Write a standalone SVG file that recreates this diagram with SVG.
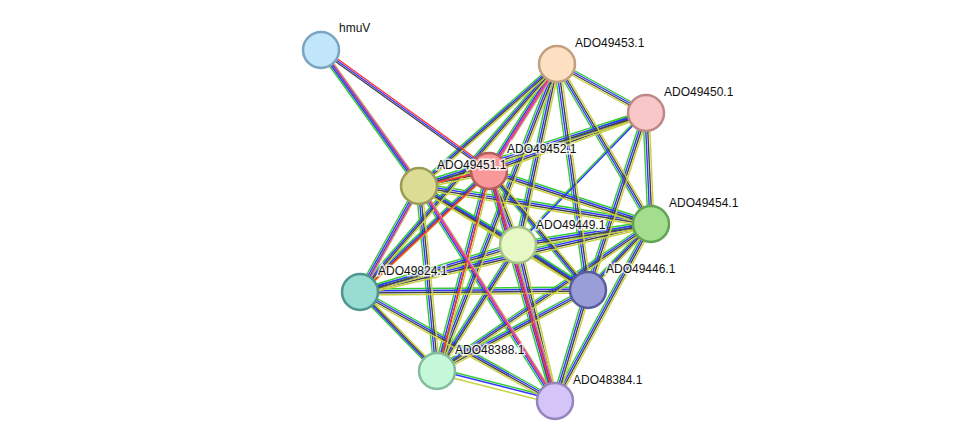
<svg xmlns="http://www.w3.org/2000/svg" xmlns:xlink="http://www.w3.org/1999/xlink" width="976" height="447" viewBox="0 0 976 447">
<style>
.g{stroke:#33cc33}.b{stroke:#3333ff}.k{stroke:#444}.y{stroke:#c8d040}.r{stroke:#ff3333}.m{stroke:#dd44dd}
#edges use{fill:none;stroke-width:1.4}
.n{stroke-width:2.5}
text{font-family:"Liberation Sans",Arial,sans-serif;font-size:12px;fill:#111;stroke:#fff;stroke-width:3px;paint-order:stroke;stroke-opacity:.8}
</style>
<defs>
<path id="e1" d="M321 50L489 171"/><path id="e2" d="M321 50L419 186"/><path id="e3" d="M557 64L419 186"/><path id="e4" d="M557 64L489 171"/>
<path id="e5" d="M557 64L518 245"/><path id="e6" d="M557 64L588 290"/><path id="e7" d="M557 64L651 224"/><path id="e8" d="M557 64L646 113"/>
<path id="e9" d="M557 64L360 292"/><path id="e10" d="M557 64L437 371"/><path id="e11" d="M646 113L489 171"/><path id="e12" d="M646 113L419 186"/>
<path id="e13" d="M646 113L651 224"/><path id="e14" d="M646 113L518 245"/><path id="e15" d="M646 113L588 290"/><path id="e16" d="M489 171L419 186"/>
<path id="e17" d="M489 171L518 245"/><path id="e18" d="M489 171L651 224"/><path id="e19" d="M489 171L588 290"/><path id="e20" d="M489 171L360 292"/>
<path id="e21" d="M489 171L437 371"/><path id="e22" d="M489 171L555 401"/><path id="e23" d="M419 186L518 245"/><path id="e24" d="M419 186L651 224"/>
<path id="e25" d="M419 186L588 290"/><path id="e26" d="M419 186L360 292"/><path id="e27" d="M419 186L437 371"/><path id="e28" d="M419 186L555 401"/>
<path id="e29" d="M651 224L518 245"/><path id="e30" d="M651 224L588 290"/><path id="e31" d="M651 224L360 292"/><path id="e32" d="M651 224L437 371"/>
<path id="e33" d="M651 224L555 401"/><path id="e34" d="M518 245L360 292"/><path id="e35" d="M518 245L588 290"/><path id="e36" d="M518 245L437 371"/>
<path id="e37" d="M518 245L555 401"/><path id="e38" d="M360 292L588 290"/><path id="e39" d="M360 292L437 371"/><path id="e40" d="M360 292L555 401"/>
<path id="e41" d="M588 290L437 371"/><path id="e42" d="M588 290L555 401"/><path id="e43" d="M437 371L555 401"/>
</defs>
<g id="edges">
<g class="g" transform="translate(-3,0)"><use href="#e2"/><use href="#e4"/><use href="#e5"/><use href="#e6"/><use href="#e7"/><use href="#e9"/><use href="#e10"/><use href="#e13"/><use href="#e14"/><use href="#e15"/><use href="#e17"/><use href="#e19"/><use href="#e21"/><use href="#e22"/><use href="#e26"/><use href="#e27"/><use href="#e28"/><use href="#e30"/><use href="#e33"/><use href="#e36"/><use href="#e37"/><use href="#e39"/><use href="#e42"/></g>
<g class="g" transform="translate(0,-3)"><use href="#e3"/><use href="#e8"/><use href="#e11"/><use href="#e12"/><use href="#e16"/><use href="#e18"/><use href="#e20"/><use href="#e23"/><use href="#e24"/><use href="#e25"/><use href="#e29"/><use href="#e31"/><use href="#e32"/><use href="#e34"/><use href="#e35"/><use href="#e38"/><use href="#e40"/><use href="#e41"/><use href="#e43"/></g>
<g class="b" transform="translate(-1,0)"><use href="#e2"/><use href="#e4"/><use href="#e5"/><use href="#e6"/><use href="#e7"/><use href="#e9"/><use href="#e10"/><use href="#e13"/><use href="#e14"/><use href="#e15"/><use href="#e17"/><use href="#e19"/><use href="#e21"/><use href="#e22"/><use href="#e26"/><use href="#e27"/><use href="#e28"/><use href="#e30"/><use href="#e33"/><use href="#e36"/><use href="#e37"/><use href="#e39"/><use href="#e42"/></g>
<g class="b" transform="translate(0,-1)"><use href="#e1"/><use href="#e3"/><use href="#e8"/><use href="#e11"/><use href="#e12"/><use href="#e16"/><use href="#e18"/><use href="#e20"/><use href="#e23"/><use href="#e24"/><use href="#e25"/><use href="#e29"/><use href="#e31"/><use href="#e32"/><use href="#e34"/><use href="#e35"/><use href="#e38"/><use href="#e40"/><use href="#e41"/><use href="#e43"/></g>
<g class="k" transform="translate(1,0)"><use href="#e2"/><use href="#e4"/><use href="#e5"/><use href="#e6"/><use href="#e7"/><use href="#e9"/><use href="#e10"/><use href="#e13"/><use href="#e15"/><use href="#e17"/><use href="#e19"/><use href="#e21"/><use href="#e22"/><use href="#e26"/><use href="#e27"/><use href="#e28"/><use href="#e30"/><use href="#e33"/><use href="#e36"/><use href="#e37"/><use href="#e39"/><use href="#e42"/></g>
<g class="k" transform="translate(0,1)"><use href="#e1"/><use href="#e3"/><use href="#e8"/><use href="#e11"/><use href="#e12"/><use href="#e16"/><use href="#e18"/><use href="#e20"/><use href="#e23"/><use href="#e24"/><use href="#e25"/><use href="#e29"/><use href="#e31"/><use href="#e32"/><use href="#e34"/><use href="#e35"/><use href="#e38"/><use href="#e40"/><use href="#e41"/></g>
<g class="y" transform="translate(3,0)"><use href="#e2"/><use href="#e4"/><use href="#e5"/><use href="#e6"/><use href="#e7"/><use href="#e9"/><use href="#e10"/><use href="#e13"/><use href="#e15"/><use href="#e17"/><use href="#e19"/><use href="#e21"/><use href="#e22"/><use href="#e26"/><use href="#e27"/><use href="#e28"/><use href="#e30"/><use href="#e33"/><use href="#e36"/><use href="#e37"/><use href="#e39"/><use href="#e42"/></g>
<g class="y" transform="translate(0,3)"><use href="#e3"/><use href="#e8"/><use href="#e11"/><use href="#e12"/><use href="#e16"/><use href="#e18"/><use href="#e20"/><use href="#e23"/><use href="#e24"/><use href="#e25"/><use href="#e29"/><use href="#e31"/><use href="#e32"/><use href="#e34"/><use href="#e35"/><use href="#e38"/><use href="#e40"/><use href="#e41"/><use href="#e43"/></g>
<g class="r"><use href="#e1" transform="translate(0,-3)"/><use href="#e4" transform="translate(1,0)"/><use href="#e16"/><use href="#e20" transform="translate(0,2)"/><use href="#e21" transform="translate(1,0)"/><use href="#e22" transform="translate(0,0)"/><use href="#e28" transform="translate(1,0)"/></g>
<g class="m" transform="translate(2,0)"><use href="#e2"/><use href="#e4"/><use href="#e26"/><use href="#e28"/><use href="#e22"/></g>
</g>
<g id="hmuV"><circle class="n" cx="321" cy="50" r="18" fill="#c1e5f9" stroke="#7aa5c1"/><text x="339" y="32">hmuV</text></g>
<g id="ADO49453.1"><circle class="n" cx="557" cy="64" r="18" fill="#fde0c2" stroke="#c29f7e"/><text x="575" y="47">ADO49453.1</text></g>
<g id="ADO49450.1"><circle class="n" cx="646" cy="113" r="18" fill="#f8c8c8" stroke="#c08787"/><text x="664" y="96">ADO49450.1</text></g>
<g id="ADO49452.1"><circle class="n" cx="489" cy="171" r="18" fill="#f89898" stroke="#b85e5e"/><text x="507" y="153">ADO49452.1</text></g>
<g id="ADO49451.1"><circle class="n" cx="419" cy="186" r="18" fill="#dcdc94" stroke="#9c9c58"/><text x="437" y="169">ADO49451.1</text></g>
<g id="ADO49454.1"><circle class="n" cx="651" cy="224" r="18" fill="#a2de8e" stroke="#62a452"/><text x="669" y="207">ADO49454.1</text></g>
<g id="ADO49449.1"><circle class="n" cx="518" cy="245" r="18" fill="#e6f8c4" stroke="#a6c088"/><text x="536" y="229">ADO49449.1</text></g>
<g id="ADO49824.1"><circle class="n" cx="360" cy="292" r="18" fill="#98dcd2" stroke="#4e968e"/><text x="378" y="275">ADO49824.1</text></g>
<g id="ADO49446.1"><circle class="n" cx="588" cy="290" r="18" fill="#9a9ed8" stroke="#585e9c"/><text x="606" y="273">ADO49446.1</text></g>
<g id="ADO48388.1"><circle class="n" cx="437" cy="371" r="18" fill="#c4f8d8" stroke="#84bc9c"/><text x="455" y="354">ADO48388.1</text></g>
<g id="ADO48384.1"><circle class="n" cx="555" cy="401" r="18" fill="#d4c4f8" stroke="#9684bc"/><text x="573" y="384">ADO48384.1</text></g>
</svg>
